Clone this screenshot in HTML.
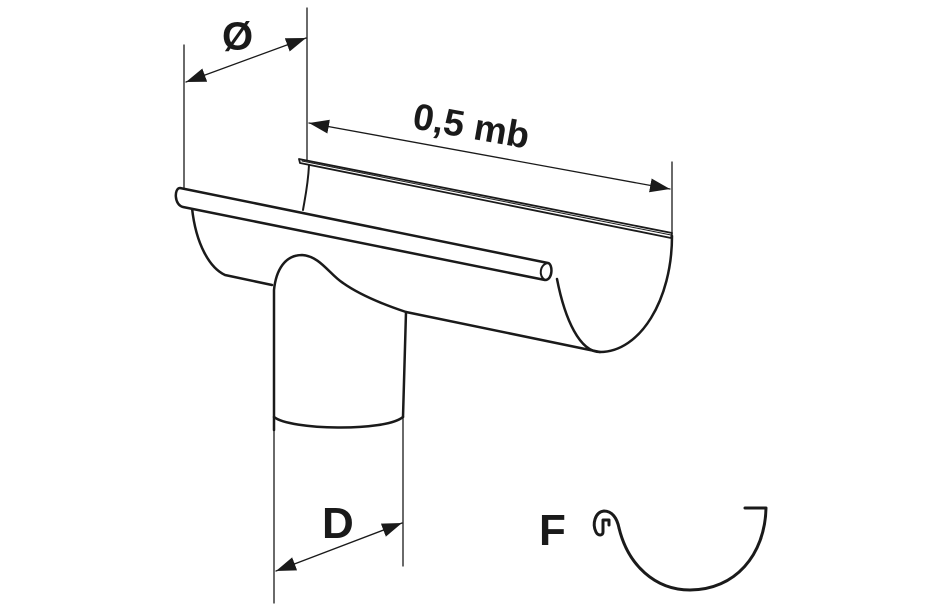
<!DOCTYPE html>
<html><head><meta charset="utf-8"><style>
html,body{margin:0;padding:0;background:#fff;}
svg{display:block;}
text{font-family:"Liberation Sans",Arial,sans-serif;font-weight:bold;fill:#1a1a1a;}
</style></head><body>
<svg width="950" height="611" viewBox="0 0 950 611" xmlns="http://www.w3.org/2000/svg">
<defs>
<marker id="ah2" viewBox="0 0 20 14" refX="20" refY="7" markerWidth="20" markerHeight="14" orient="auto-start-reverse" markerUnits="userSpaceOnUse">
<path d="M0,0 L20,7 L0,14 z" fill="#1a1a1a"/></marker>
</defs>
<g stroke="#1a1a1a" fill="none" stroke-linecap="round" stroke-linejoin="round">
<line x1="184" y1="45" x2="184" y2="190" stroke-width="1.3"/>
<line x1="307" y1="8" x2="307" y2="160" stroke-width="1.3"/>
<line x1="672" y1="162" x2="672" y2="236" stroke-width="1.3"/>
<line x1="186" y1="82" x2="306" y2="38" stroke-width="1.3" marker-start="url(#ah2)" marker-end="url(#ah2)"/>
<line x1="309" y1="123" x2="670" y2="189" stroke-width="1.3" marker-start="url(#ah2)" marker-end="url(#ah2)"/>
<line x1="274" y1="430" x2="274" y2="603" stroke-width="1.3"/>
<line x1="403" y1="417" x2="403" y2="566" stroke-width="1.3"/>
<line x1="276" y1="571" x2="402" y2="523" stroke-width="1.3" marker-start="url(#ah2)" marker-end="url(#ah2)"/>
<path d="M299,159 L672,233 L671,238 L300,163 Z" stroke-width="1.8" fill="#fff"/>
<line x1="302" y1="161" x2="671" y2="235" stroke-width="1"/>
<path d="M309,165 C308,185 305,198 303,210" stroke-width="2"/>
<path d="M192,208 C196,245 210,268 225,275 L272,285" stroke-width="2.5"/>
<path d="M672,236 C672,300 640,352 600,352 C580,352 565,320 557,279" stroke-width="2.5"/>
<path d="M406,312 L590,350 L600,352" stroke-width="2.5"/>
<path d="M274,430 L274,290 C276,270 285,255 302,255 C320,256 330,275 343,283 C360,295 385,305 406,312 L403,417" stroke-width="2.5"/>
<path d="M274,417 C290,430 385,432 403,417" stroke-width="2.5"/>
<path d="M180,188 L548,263 C553,264 553,280 545,280 L183,207 C174,205 174,188 180,188 Z" stroke-width="2.5" fill="#fff"/>
<path d="M548,263 C540,264 538,276 545,280" stroke-width="2"/>
<path d="M609,525 L609,520 L603,520 L603,532 C603,536 598,536 596,532 C592,524 595,512 604,511 C612,511 617,518 619,528" stroke-width="3"/>
<path d="M619,528 C628,565 655,590 690,590 C735,590 765,555 766,508 L745,508" stroke-width="3"/>
</g>
<text x="222" y="50" font-size="40">Ø</text>
<text x="413" y="140" font-size="37" transform="rotate(10 480 125)">0,5 mb</text>
<text x="322" y="538" font-size="44">D</text>
<text x="539" y="545" font-size="44">F</text>
</svg>
</body></html>
